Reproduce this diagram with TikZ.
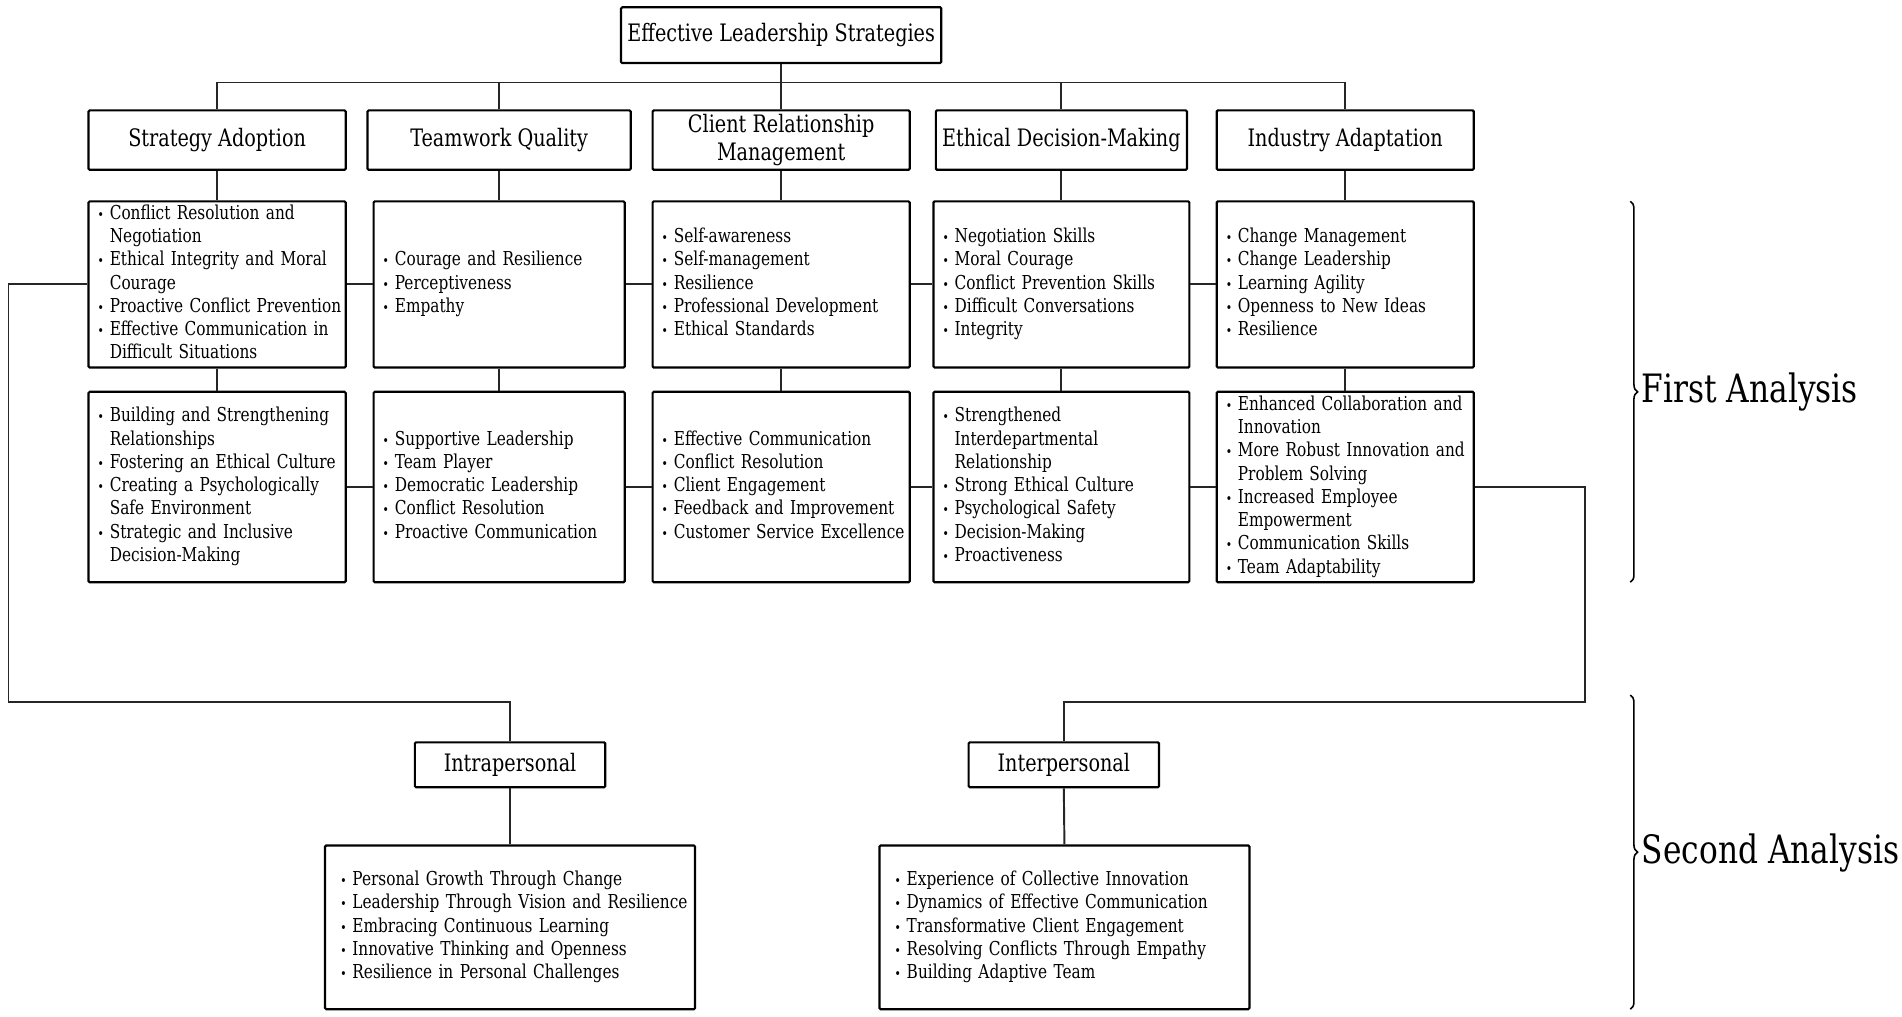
\documentclass[tikz,border=0pt]{standalone}
\usepackage{fontspec}
\setmainfont{DejaVu Serif}[FakeStretch=0.8]
\usetikzlibrary{decorations.pathreplacing}
\newcommand\bul{\makebox[10pt][l]{\fontsize{11}{11}\selectfont\textbullet}}
\newcommand\cnt{\hspace*{10pt}}
\newcommand\items[1]{\begin{tabular}{@{}l@{}}#1\end{tabular}}
\begin{document}
\begin{tikzpicture}[x=1pt,y=-1pt,
  box/.style={draw=black, line width=1.8pt, rounded corners=1pt, fill=white, inner sep=0pt, align=center, text=black},
  head/.style={box, font=\fontsize{19.8}{23}\selectfont},
  lst/.style={box, align=left, inner xsep=7.5pt, font=\fontsize{15.8}{19.2}\selectfont},
  conn/.style={draw=black!85, line width=1.6pt},
  brc/.style={decorate, decoration={brace, amplitude=6pt}, line width=1.3pt},
  side/.style={anchor=west, font=\fontsize{32.2}{36}\selectfont, text=black}]
\useasboundingbox (0,0) rectangle (1568,838.4);
\coordinate (bus) at (0,68);
\coordinate (lc) at (7,579);
\coordinate (rc) at (1307,579);
% root
\node[head, minimum width=264, minimum height=46] (root) at (644,29) {Effective Leadership Strategies};
% level 1
\node[head, minimum width=212, minimum height=49] (sa1) at (179,115.5) {Strategy Adoption};
\node[head, minimum width=217, minimum height=49] (tq1) at (411.5,115.5) {Teamwork Quality};
\node[head, minimum width=212, minimum height=49] (crm1) at (644,115.5) {Client Relationship\\Management};
\node[head, minimum width=207, minimum height=49] (ed1) at (875,115.5) {Ethical Decision-Making};
\node[head, minimum width=212, minimum height=49] (ia1) at (1109,115.5) {Industry Adaptation};
% level 2
\node[lst, text width=197, minimum height=137] (sa2) at (179,234.5) {\items{\bul Conflict Resolution and\\\cnt Negotiation\\\bul Ethical Integrity and Moral\\\cnt Courage\\\bul Proactive Conflict Prevention\\\bul Effective Communication in\\\cnt Difficult Situations}};
\node[lst, text width=192, minimum height=137] (tq2) at (411.5,234.5) {\items{\bul Courage and Resilience\\\bul Perceptiveness\\\bul Empathy}};
\node[lst, text width=197, minimum height=137] (crm2) at (644,234.5) {\items{\bul Self-awareness\\\bul Self-management\\\bul Resilience\\\bul Professional Development\\\bul Ethical Standards}};
\node[lst, text width=196, minimum height=137] (ed2) at (875,234.5) {\items{\bul Negotiation Skills\\\bul Moral Courage\\\bul Conflict Prevention Skills\\\bul Difficult Conversations\\\bul Integrity}};
\node[lst, text width=197, minimum height=137] (ia2) at (1109,234.5) {\items{\bul Change Management\\\bul Change Leadership\\\bul Learning Agility\\\bul Openness to New Ideas\\\bul Resilience}};
% level 3
\node[lst, text width=197, minimum height=157] (sa3) at (179,401.5) {\items{\bul Building and Strengthening\\\cnt Relationships\\\bul Fostering an Ethical Culture\\\bul Creating a Psychologically\\\cnt Safe Environment\\\bul Strategic and Inclusive\\\cnt Decision-Making}};
\node[lst, text width=192, minimum height=157] (tq3) at (411.5,401.5) {\items{\bul Supportive Leadership\\\bul Team Player\\\bul Democratic Leadership\\\bul Conflict Resolution\\\bul Proactive Communication}};
\node[lst, text width=197, minimum height=157] (crm3) at (644,401.5) {\items{\bul Effective Communication\\\bul Conflict Resolution\\\bul Client Engagement\\\bul Feedback and Improvement\\\bul Customer Service Excellence}};
\node[lst, text width=196, minimum height=157] (ed3) at (875,401.5) {\items{\bul Strengthened\\\cnt Interdepartmental\\\cnt Relationship\\\bul Strong Ethical Culture\\\bul Psychological Safety\\\bul Decision-Making\\\bul Proactiveness}};
\node[lst, text width=197, minimum height=157] (ia3) at (1109,401.5) {\items{\bul Enhanced Collaboration and\\\cnt Innovation\\\bul More Robust Innovation and\\\cnt Problem Solving\\\bul Increased Employee\\\cnt Empowerment\\\bul Communication Skills\\\bul Team Adaptability}};
% second analysis
\node[head, minimum width=157, minimum height=37] (intra) at (420.5,630.5) {Intrapersonal};
\node[head, minimum width=157, minimum height=37] (inter) at (877,630.5) {Interpersonal};
\node[lst, inner xsep=12.5pt, text width=280, minimum height=135] (intraL) at (420.5,764.5) {\items{\bul Personal Growth Through Change\\\bul Leadership Through Vision and Resilience\\\bul Embracing Continuous Learning\\\bul Innovative Thinking and Openness\\\bul Resilience in Personal Challenges}};
\node[lst, inner xsep=12.5pt, text width=280, minimum height=135] (interL) at (877.5,764.5) {\items{\bul Experience of Collective Innovation\\\bul Dynamics of Effective Communication\\\bul Transformative Client Engagement\\\bul Resolving Conflicts Through Empathy\\\bul Building Adaptive Team}};
% connectors
\draw[conn] (root.south) -- (root.south |- bus);
\draw[conn] (sa1.north) -- (sa1.north |- bus) -- (ia1.north |- bus) -- (ia1.north);
\foreach \n in {tq1,crm1,ed1} \draw[conn] (\n.north) -- (\n.north |- bus);
\foreach \a/\b in {sa1/sa2,tq1/tq2,crm1/crm2,ed1/ed2,ia1/ia2,sa2/sa3,tq2/tq3,crm2/crm3,ed2/ed3,ia2/ia3}
  \draw[conn] (\a.south) -- (\b.north);
\foreach \a/\b in {sa2/tq2,tq2/crm2,crm2/ed2,ed2/ia2,sa3/tq3,tq3/crm3,crm3/ed3,ed3/ia3}
  \draw[conn] (\a.east) -- (\b.west);
\draw[conn] (sa2.west) -- (sa2.west -| lc) -- (lc) -- (lc -| intra.north) -- (intra.north);
\draw[conn] (ia3.east) -- (ia3.east -| rc) -- (rc) -- (rc -| inter.north) -- (inter.north);
\draw[conn] (intra.south) -- (intraL.north);
\draw[conn] (inter.south) -- (interL.north);
% braces
\coordinate (b1a) at (1344,166); \coordinate (b1b) at (1344,480);
\coordinate (b2a) at (1344,573); \coordinate (b2b) at (1344,832);
\draw[brc] (b1a) -- (b1b);
\draw[brc] (b2a) -- (b2b);
\node[side] (fa) at (1350,323) {First Analysis};
\node[side] (sa) at (1350,703) {Second Analysis};
\end{tikzpicture}
\end{document}
